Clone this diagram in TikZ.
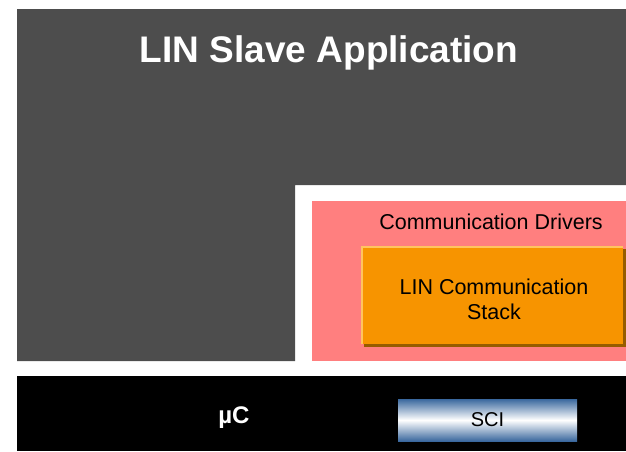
\documentclass[tikz,border=0pt]{standalone}
\usepackage{fontspec}
\setmainfont{Liberation Sans}
\usepackage{tikz}
\usetikzlibrary{positioning, calc, shadows}
\definecolor{cDark}{RGB}{77,77,77}
\definecolor{cPink}{RGB}{255,127,127}
\definecolor{cOrange}{RGB}{247,148,0}
\definecolor{cOrangeHi}{RGB}{255,196,96}
\definecolor{cBrown}{RGB}{150,92,0}
\definecolor{cSteel}{RGB}{58,104,158}
\tikzset{
	layer/.style   ={rectangle, inner sep=0pt, outer sep=0pt},
	bigtitle/.style={text=white, font=\fontsize{37}{40}\selectfont\bfseries},
	plain/.style   ={text=black, font=\fontsize{21.5}{25}\selectfont, align=center},
	stackbox/.style={layer, fill=cOrange, minimum width=262pt, minimum height=98pt,
		drop shadow={shadow xshift=3pt, shadow yshift=-3pt, opacity=1, fill=cBrown}},
	scibox/.style  ={layer, minimum width=179pt, minimum height=42pt, top color=cSteel, bottom color=cSteel, middle color=white, plain, font=\fontsize{20}{24}\selectfont},
}
\begin{document}
\begin{tikzpicture}[x=1pt, y=-1pt]
	\useasboundingbox (0,0) rectangle (626,451);
	% application area (L shaped)
	\fill[cDark] (17,9) -- (626,9) -- (626,185) -- (295,185) -- (295,361) -- (17,361) -- cycle;
	\node[bigtitle] (app) at (329,53) {LIN Slave Application};
	% drivers
	\node[layer, fill=cPink, anchor=north west, minimum width=314pt, minimum height=160pt] (drivers) at (312,201) {};
	\node[plain] (drvlabel) at (491,222) {Communication Drivers};
	\node[stackbox, anchor=north west] (stack) at (361,246) {};
	\draw[cOrangeHi, line width=2.5pt] ([xshift=1.2pt]stack.south west) -- ([shift={(1.2pt,-1.2pt)}]stack.north west) -- ([yshift=-1.2pt]stack.north east);
	\node[plain] (stacklabel) at (494,299) {LIN Communication\\Stack};
	% microcontroller
	\node[layer, fill=black, anchor=north west, minimum width=609pt, minimum height=75pt] (uc) at (17,376) {};
	\node[text=white, font=\fontsize{24}{28}\selectfont\bfseries] (uclabel) at (234,418) {µC};
	\node[scibox, anchor=north west] (sci) at (398,399) {SCI};
\end{tikzpicture}
\end{document}
